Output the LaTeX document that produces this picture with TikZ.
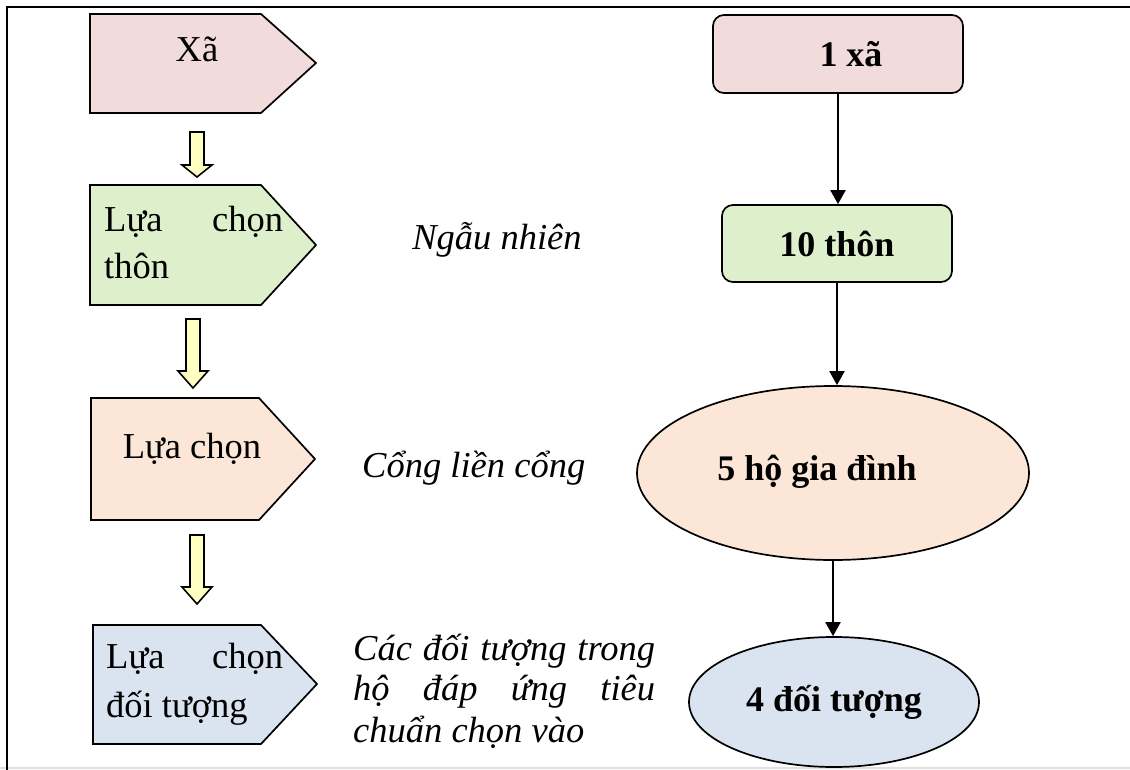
\documentclass[tikz,border=0pt]{standalone}
\usepackage{fontspec}
\setmainfont{Liberation Serif}
\usetikzlibrary{shapes.geometric,arrows.meta}
\definecolor{cpink}{HTML}{F2DCDB}
\definecolor{cgreen}{HTML}{DEEFCC}
\definecolor{cpeach}{HTML}{FCE6D7}
\definecolor{cblue}{HTML}{DAE3F0}
\definecolor{cyell}{HTML}{FFFFC2}
\tikzset{
  pent/.style={draw=black, line width=1.7pt, line join=miter},
  blk/.style={draw=black, line width=1.6pt, fill=cyell, line join=miter},
  txt/.style={inner sep=0pt, font=\fontsize{36.5}{42}\selectfont},
  itxt/.style={inner sep=0pt, font=\fontsize{36.5}{42}\selectfont\itshape},
  rbox/.style={draw=black, line width=1.7pt, rounded corners=11pt, inner sep=0pt, font=\fontsize{36}{42}\selectfont\bfseries},
  ell/.style={draw=black, line width=1.7pt, ellipse, inner sep=0pt, font=\fontsize{36}{42}\selectfont\bfseries},
  conn/.style={draw=black, line width=2pt, -{Triangle[length=14pt,width=15pt]}}
}
\begin{document}
\begin{tikzpicture}[x=1pt,y=-1pt]
\useasboundingbox (0,0) rectangle (1130,770);
% frame
\draw[black!12, line width=1.5pt] (0,768) -- (1130,768);
\draw[black, line width=2.2pt] (7,770) -- (7,7) -- (1130,7);

% left pentagons
\draw[pent, fill=cpink]  (90,14) -- (261,14) -- (316,63) -- (261,113) -- (90,113) -- cycle;
\node[txt, anchor=base] (t1) at (197,62) {Xã};

\draw[pent, fill=cgreen] (90,185) -- (261,185) -- (316,245) -- (261,305) -- (90,305) -- cycle;
\node[txt, anchor=base west] (t2a) at (104,232) {\hbox to 179pt{Lựa\hfill chọn}};
\node[txt, anchor=base west] (t2b) at (104,278) {thôn};

\draw[pent, fill=cpeach] (91,398) -- (259,398) -- (315,459) -- (259,520) -- (91,520) -- cycle;
\node[txt, anchor=base] (t3) at (192,458) {Lựa chọn};

\draw[pent, fill=cblue]  (93,625) -- (261,625) -- (317,684) -- (261,744) -- (93,744) -- cycle;
\node[txt, anchor=base west] (t4a) at (106,668) {\hbox to 177pt{Lựa\hfill chọn}};
\node[txt, anchor=base west] (t4b) at (106,717) {đối tượng};

% block arrows
\draw[blk] (190,132) -- (204,132) -- (204,165) -- (212,165) -- (197,177) -- (182,165) -- (190,165) -- cycle;
\draw[blk] (186,319) -- (200,319) -- (200,371) -- (208,371) -- (193,388) -- (178,371) -- (186,371) -- cycle;
\draw[blk] (190,535) -- (204,535) -- (204,587) -- (212,587) -- (197,604) -- (182,587) -- (190,587) -- cycle;

% middle labels
\node[itxt, anchor=base] (l1) at (497,250) {Ngẫu nhiên};
\node[itxt, anchor=base west] (l2) at (362,477) {Cổng liền cổng};
\node[itxt, anchor=base west] (l3a) at (353,660) {\hbox to 302pt{Các\hfill đối\hfill tượng\hfill trong}};
\node[itxt, anchor=base west] (l3b) at (353,700) {\hbox to 302pt{hộ\hfill đáp\hfill ứng\hfill tiêu}};
\node[itxt, anchor=base west] (l3c) at (353,742) {chuẩn chọn vào};

% right column
\node[rbox, fill=cpink, minimum width=250pt, minimum height=78pt] (b1) at (838,54) {\hspace*{26pt}1 xã};
\node[rbox, fill=cgreen, minimum width=230pt, minimum height=77pt] (b2) at (837,243.5) {10 thôn};
\node[ell, fill=cpeach, minimum width=392pt, minimum height=174pt] (e1) at (833,473) {\raisebox{10pt}{5 hộ gia đình\hspace*{32pt}}};
\node[ell, fill=cblue, minimum width=290pt, minimum height=130pt] (e2) at (834,702) {4 đối tượng};

\draw[conn] (b1.south) -- (b1.south |- b2.north);
\draw[conn] (b2.south) -- (b2.south |- e1.north);
\draw[conn] (e1.south) -- (e1.south |- e2.north);
\end{tikzpicture}
\end{document}
